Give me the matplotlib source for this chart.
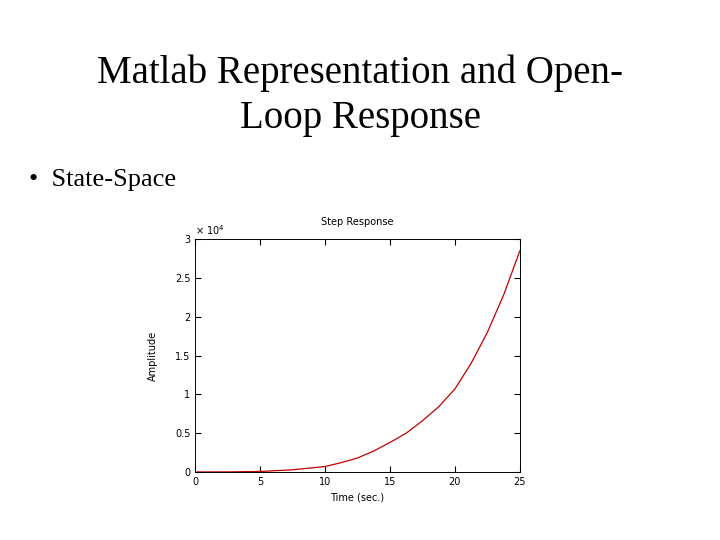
import matplotlib
matplotlib.use("Agg")
import matplotlib.pyplot as plt

# step response (amplitude in units of 1e4)
time_s = [0, 2.5, 5, 7.5, 10, 11.25, 12.5, 13.75, 15, 16.25, 17.5, 18.75, 20,
          21.25, 22.5, 23.75, 25]
amplitude = [0, 0.001, 0.006, 0.028, 0.07, 0.12, 0.18, 0.27, 0.38, 0.5, 0.66,
             0.84, 1.07, 1.4, 1.8, 2.28, 2.85]

x_ticks = [0, 5, 10, 15, 20, 25]
y_ticks = [0, 0.5, 1, 1.5, 2, 2.5, 3]
y_labels = ["0", "0.5", "1", "1.5", "2", "2.5", "3"]

fig = plt.figure(figsize=(7.2, 5.4), dpi=100)
fig.text(0.5, 0.823, "Matlab Representation and Open-\nLoop Response", ha="center",
         va="center", family="Liberation Serif", fontsize=28, linespacing=1.3)
fig.text(0.04, 0.655, "\u2022  State-Space", family="Liberation Serif", fontsize=19)

ax = fig.add_axes([0.271, 0.126, 0.451, 0.431])
ax.plot(time_s, amplitude, color="#c00000", linewidth=0.9)
ax.set_xlim(0, 25)
ax.set_ylim(0, 3)
ax.set_xticks(x_ticks)
ax.set_yticks(y_ticks)
ax.set_yticklabels(y_labels)
ax.tick_params(direction="in", top=True, right=True, labelsize=7, length=4)
for s in ax.spines.values():
    s.set_linewidth(0.7)
ax.set_title("Step Response", fontsize=7, pad=10)
ax.set_xlabel("Time (sec.)", fontsize=7)
ax.set_ylabel("Amplitude", fontsize=7, labelpad=12)
ax.text(0.0, 1.01, "\u00d7 10$^4$", transform=ax.transAxes, fontsize=7, va="bottom")

fig.savefig("out.png", dpi=100)
